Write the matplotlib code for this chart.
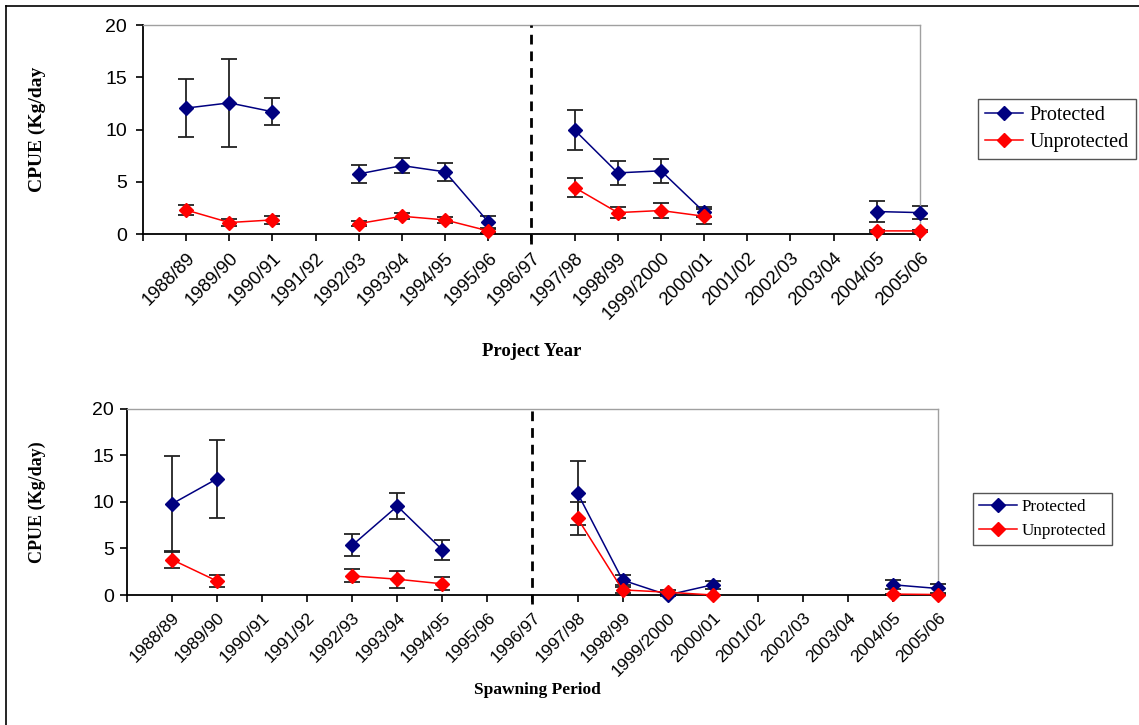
import numpy as np
import matplotlib
matplotlib.use('Agg')
import matplotlib.pyplot as plt
from matplotlib.lines import Line2D

nan = np.nan

# === seasons on the x axis ===
SEASONS = ["1988/89", "1989/90", "1990/91", "1991/92", "1992/93", "1993/94",
           "1994/95", "1995/96", "1996/97", "1997/98", "1998/99", "1999/2000",
           "2000/01", "2001/02", "2002/03", "2003/04", "2004/05", "2005/06"]
BREAK_SEASON = "1996/97"

# === CPUE by project year ===
year_prot = [12.05, 12.55, 11.7, nan, 5.75, 6.55, 5.95, 1.15, nan,
             9.95, 5.85, 6.05, 2.1, nan, nan, nan, 2.15, 2.05]
year_prot_err = [2.75, 4.2, 1.3, nan, 0.9, 0.75, 0.85, 0.55, nan,
                 1.95, 1.15, 1.15, 0.5, nan, nan, nan, 1.0, 0.6]
year_unprot = [2.3, 1.1, 1.35, nan, 1.0, 1.7, 1.35, 0.3, nan,
               4.45, 2.05, 2.25, 1.7, nan, nan, nan, 0.3, 0.3]
year_unprot_err = [0.45, 0.35, 0.35, nan, 0.2, 0.3, 0.25, 0.2, nan,
                   0.9, 0.5, 0.7, 0.7, nan, nan, nan, 0.1, 0.1]

# === CPUE by spawning period ===
spawn_prot = [9.8, 12.5, nan, nan, 5.35, 9.55, 4.85, nan, nan,
              10.95, 1.6, 0.0, 1.1, nan, nan, nan, 1.1, 0.7]
spawn_prot_err = [5.15, 4.2, nan, nan, 1.2, 1.4, 1.1, nan, nan,
                  3.45, 0.5, 0.1, 0.45, nan, nan, nan, 0.5, 0.45]
spawn_unprot = [3.8, 1.5, nan, nan, 2.05, 1.7, 1.2, nan, nan,
                8.25, 0.55, 0.3, 0.0, nan, nan, nan, 0.1, 0.05]
spawn_unprot_err = [0.9, 0.65, nan, nan, 0.7, 0.9, 0.7, nan, nan,
                    1.75, 0.3, 0.2, 0.05, nan, nan, nan, 0.05, 0.05]

PROT_COLOR = "#000080"
UNPROT_COLOR = "#FF0000"
ERR_COLOR = "#222222"
SANS = "Liberation Sans"
SERIF = "Liberation Serif"


def draw_panel(ax, prot, prot_err, unprot, unprot_err, xtick_size, ypad):
    x = np.arange(len(SEASONS))
    for vals, errs in ((prot, prot_err), (unprot, unprot_err)):
        ax.errorbar(x, vals, yerr=errs, fmt="none", ecolor=ERR_COLOR,
                    elinewidth=1.3, capsize=5.5, capthick=1.3, clip_on=False, zorder=2)
    ax.plot(x, prot, color=PROT_COLOR, lw=1.1, marker="D", ms=7.5,
            label="Protected", clip_on=False, zorder=3)
    ax.plot(x, unprot, color=UNPROT_COLOR, lw=1.1, marker="D", ms=7.5,
            label="Unprotected", clip_on=False, zorder=4)

    ax.axvline(SEASONS.index(BREAK_SEASON), ymin=-0.05, ymax=1.0, color="black",
               lw=2, ls=(0, (3.5, 2.5)), clip_on=False, zorder=5)

    ax.set_xlim(-1, len(SEASONS) - 1)
    ax.set_ylim(0, 20)
    ax.set_yticks(range(0, 21, 5))
    ax.set_xticks(np.arange(-1, len(SEASONS)))
    ax.set_xticklabels([""] + SEASONS, rotation=45, ha="right",
                       rotation_mode="anchor", fontsize=xtick_size, family=SANS)
    for lab in ax.get_yticklabels():
        lab.set_family(SANS)
        lab.set_fontsize(14)
    ax.tick_params(axis="both", direction="out", length=5, width=1.2, colors="black")
    ax.tick_params(axis="x", pad=6)
    ax.tick_params(axis="y", pad=ypad)
    for side in ("left", "bottom"):
        ax.spines[side].set_color("black")
        ax.spines[side].set_linewidth(1.3)
    for side in ("top", "right"):
        ax.spines[side].set_color("#A0A0A0")
        ax.spines[side].set_linewidth(1.0)


fig = plt.figure(figsize=(11.39, 7.25), dpi=100)

ax_top = fig.add_axes([0.1255, 0.6772, 0.6822, 0.2883])
draw_panel(ax_top, year_prot, year_prot_err, year_unprot, year_unprot_err, 13.3, 6.5)
ax_top.set_ylabel("CPUE (Kg/day", family=SERIF, fontweight="bold", fontsize=14)
ax_top.yaxis.set_label_coords(-0.125, 0.5)
fig.text(0.467, 1 - 352 / 725, "Project Year", family=SERIF, fontweight="bold",
         fontsize=13.5, ha="center", va="center")
h, l = ax_top.get_legend_handles_labels()
fig.legend(h, l, loc="upper left", bbox_to_anchor=(0.8587, 0.8634),
           prop={"family": SERIF, "size": 14.5}, frameon=True, fancybox=False,
           edgecolor="#555555", framealpha=1, handlelength=1.9,
           borderpad=0.35, labelspacing=0.4, handletextpad=0.3, borderaxespad=0)

ax_bot = fig.add_axes([0.1115, 0.1793, 0.712, 0.2566])
draw_panel(ax_bot, spawn_prot, spawn_prot_err, spawn_unprot, spawn_unprot_err, 12.5, 4.5)
ax_bot.set_ylabel("CPUE (Kg/day)", family=SERIF, fontweight="bold", fontsize=13)
ax_bot.yaxis.set_label_coords(-0.1, 0.5)
fig.text(0.4715, 1 - 690 / 725, "Spawning Period", family=SERIF, fontweight="bold",
         fontsize=12.5, ha="center", va="center")
h, l = ax_bot.get_legend_handles_labels()
fig.legend(h, l, loc="upper left", bbox_to_anchor=(0.8543, 0.32),
           prop={"family": SERIF, "size": 12.3}, frameon=True, fancybox=False,
           edgecolor="#555555", framealpha=1, handlelength=2.2,
           borderpad=0.35, labelspacing=0.45, handletextpad=0.3, borderaxespad=0)

# outer frame along the left and top edges
fig.add_artist(Line2D([6 / 1139, 6 / 1139], [0, 1 - 6 / 725], color="black", lw=1.2))
fig.add_artist(Line2D([6 / 1139, 1], [1 - 6 / 725, 1 - 6 / 725], color="black", lw=1.2))

fig.savefig("out.png", dpi=100)
